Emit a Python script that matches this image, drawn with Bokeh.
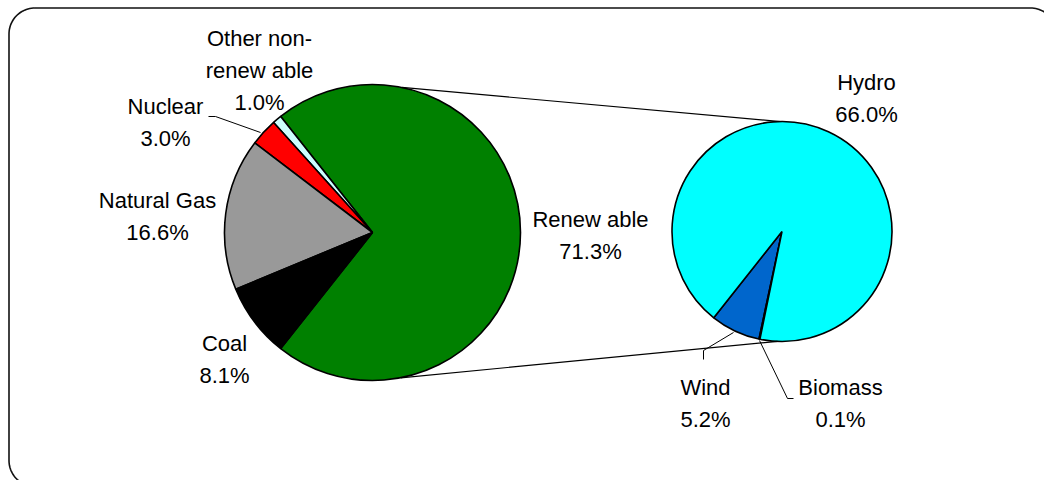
import numpy as np
from bokeh.plotting import figure
from bokeh.models import Range1d
from bokeh.core.properties import value
from bokeh.embed import file_html
from bokeh.resources import INLINE

# ---------------- data ----------------
main_categories = ["Renewable", "Other non-renewable", "Nuclear", "Natural Gas", "Coal"]
main_names = [["Renew able"], ["Other non-", "renew able"], ["Nuclear"], ["Natural Gas"], ["Coal"]]
main_values = [71.3, 1.0, 3.0, 16.6, 8.1]

sub_categories = ["Wind", "Biomass", "Hydro"]
sub_names = [["Wind"], ["Biomass"], ["Hydro"]]
sub_values = [5.2, 0.1, 66.0]

# ---------------- styles / layout ----------------
main_colors = ["#008000", "#CCFFFF", "#FF0000", "#999999", "#000000"]
sub_colors = ["#0066CC", "#003399", "#00FFFF"]

W, H = 1044, 480
def X(ix):  # image px -> data
    return ix
def Y(iy):
    return H - iy

MAIN_C = (372.0, 232.0)
MAIN_R = 148.0
SUB_C = (781.5, 231.0)
SUB_R = 110.0
FONT = value("Liberation Sans")
FS = "22px"
LINE_GAP = 31.8

# label anchors (image px: center x, first baseline y)
main_label_pos = {"Renewable": (590, 219), "Other non-renewable": (259, 38),
                  "Nuclear": (165, 106), "Natural Gas": (157, 200), "Coal": (224, 343)}
sub_label_pos = {"Wind": (705, 387), "Biomass": (840, 387), "Hydro": (866, 82)}

# leader lines (image px)
leaders = {"Nuclear": [(208, 116), (215, 116), (260, 132)],
           "Wind": [(703, 359), (703, 350), (733, 332)],
           "Biomass": [(793, 398), (787, 398), (759, 340)]}

p = figure(width=W, height=H, x_range=Range1d(0, W), y_range=Range1d(0, H),
           output_backend="svg", toolbar_location=None,
           x_axis_location=None, y_axis_location=None, min_border=0)
p.grid.visible = False
p.outline_line_color = None
p.background_fill_color = "white"
p.border_fill_color = "white"

# ---- rounded border (decoration) ----
left, top, right, bottom, r = X(8.5), Y(7.5), X(1056), Y(486), 26
def arc(cx, cy, a0, a1):
    t = np.radians(np.linspace(a0, a1, 24))
    return list(cx + r * np.cos(t)), list(cy + r * np.sin(t))
bx, by = [], []
for (cx, cy, a0, a1) in [(left + r, top - r, 90, 180), (left + r, bottom + r, 180, 270),
                          (right - r, bottom + r, 270, 360), (right - r, top - r, 0, 90)]:
    ax_, ay_ = arc(cx, cy, a0, a1)
    bx += ax_; by += ay_
bx.append(bx[0]); by.append(by[0])
p.line(bx, by, line_color="#111111", line_width=1.6)

# ---- main pie ----
total = sum(main_values)
start = -main_values[0] / total * 360 / 2
m_start, m_end = [], []
a = start
for v in main_values:
    m_start.append(np.radians(a))
    a += v / total * 360
    m_end.append(np.radians(a))
p.wedge(x=[X(MAIN_C[0])] * len(main_values), y=[Y(MAIN_C[1])] * len(main_values),
        radius=MAIN_R, start_angle=m_start, end_angle=m_end,
        direction="anticlock", fill_color=main_colors, line_color="black", line_width=1.6)

# ---- secondary pie ----
sub_total = sum(sub_values)
a = start + 360
s_start, s_end = [], []
for v in sub_values:
    s_start.append(np.radians(a))
    a += v / sub_total * 360
    s_end.append(np.radians(a))
p.wedge(x=[X(SUB_C[0])] * len(sub_values), y=[Y(SUB_C[1])] * len(sub_values),
        radius=SUB_R, start_angle=s_start, end_angle=s_end,
        direction="anticlock", fill_color=sub_colors, line_color="black", line_width=1.6)

# ---- connector lines ----
def on_circle(c, rad, ang):
    t = np.radians(ang)
    return X(c[0]) + rad * np.cos(t), Y(c[1]) + rad * np.sin(t)
t1 = on_circle(MAIN_C, MAIN_R, 78.5); t2 = on_circle(SUB_C, SUB_R, 90.8)
b1 = on_circle(MAIN_C, MAIN_R, -79); b2 = on_circle(SUB_C, SUB_R, -92.3)
p.multi_line(xs=[[t1[0], t2[0]], [b1[0], b2[0]]], ys=[[t1[1], t2[1]], [b1[1], b2[1]]],
             line_color="black", line_width=1.2)

# ---- leader lines ----
p.multi_line(xs=[[X(x) for x, _ in pl] for pl in leaders.values()],
             ys=[[Y(y) for _, y in pl] for pl in leaders.values()],
             line_color="black", line_width=1.0)

# ---- labels ----
tx, ty, tt = [], [], []
def add_label(lines, val, pos):
    cx, by0 = pos
    all_lines = lines + [f"{val:.1f}%"]
    for i, s in enumerate(all_lines):
        tx.append(X(cx)); ty.append(Y(by0 + i * LINE_GAP)); tt.append(s)
for cat, nm, v in zip(main_categories, main_names, main_values):
    add_label(nm, v, main_label_pos[cat])
for cat, nm, v in zip(sub_categories, sub_names, sub_values):
    add_label(nm, v, sub_label_pos[cat])
p.text(x=tx, y=ty, text=tt, text_font=FONT, text_font_size=FS, text_color="black",
       text_align="center", text_baseline="alphabetic")

open("out.html", "w").write(file_html(p, INLINE))
